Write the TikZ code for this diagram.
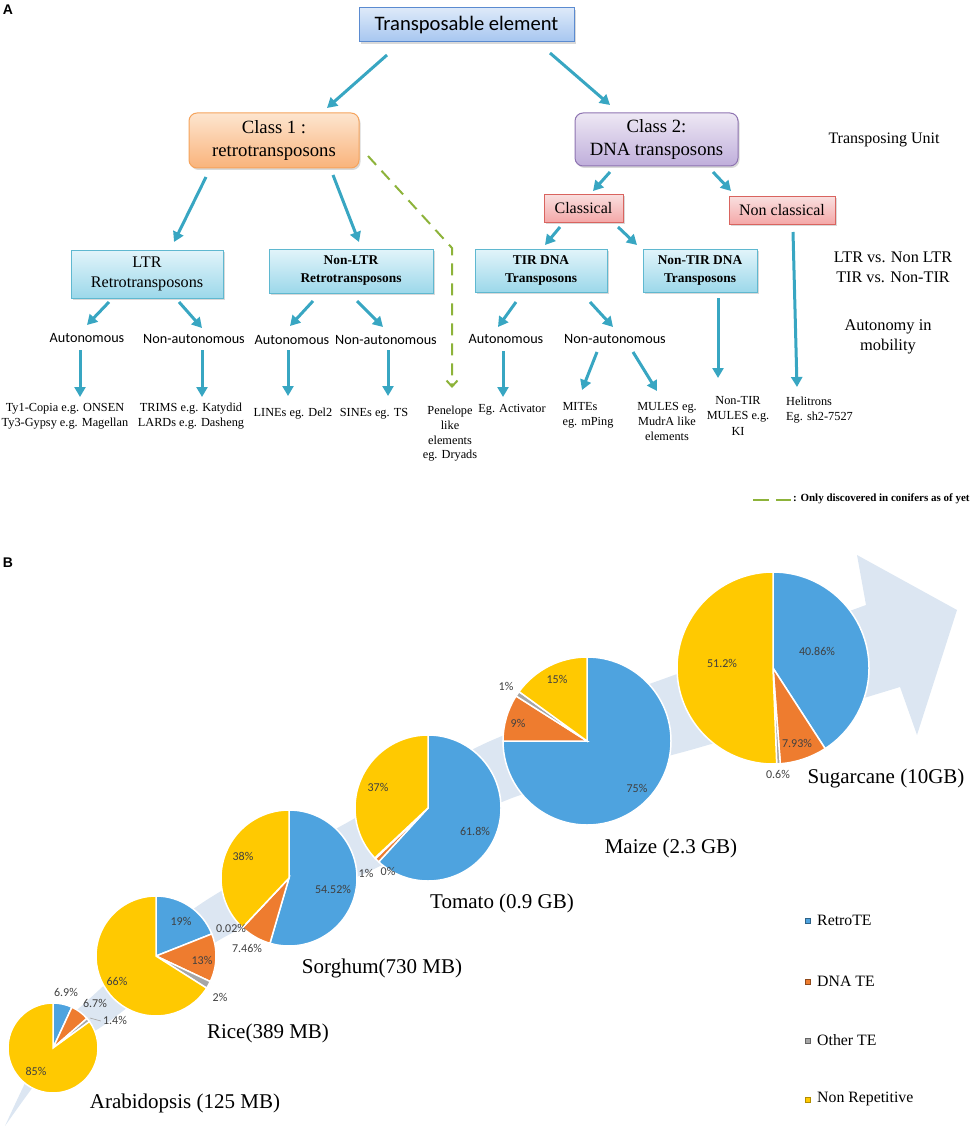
\documentclass[tikz,border=0pt]{standalone}
\usepackage{fontspec}
\setmainfont{Liberation Serif}
\newfontfamily\calibfont{Carlito}
\newfontfamily\arialfont{Liberation Sans}
\usetikzlibrary{arrows.meta,calc,shadows,positioning}
\definecolor{arrteal}{RGB}{56,166,194}
\definecolor{dashgreen}{RGB}{141,179,58}
\definecolor{teline}{RGB}{91,139,208}
\definecolor{tetop}{RGB}{221,233,249}
\definecolor{tebot}{RGB}{166,198,240}
\definecolor{orline}{RGB}{245,163,92}
\definecolor{ortop}{RGB}{253,229,207}
\definecolor{orbot}{RGB}{249,179,123}
\definecolor{puline}{RGB}{142,116,177}
\definecolor{putop}{RGB}{238,232,244}
\definecolor{pubot}{RGB}{191,174,219}
\definecolor{redline}{RGB}{217,100,95}
\definecolor{redtop}{RGB}{249,224,224}
\definecolor{redbot}{RGB}{244,168,168}
\definecolor{cyline}{RGB}{95,184,208}
\definecolor{cytop}{RGB}{226,244,250}
\definecolor{cybot}{RGB}{156,216,234}
\definecolor{cRetro}{RGB}{78,163,223}
\definecolor{cDNA}{RGB}{238,124,47}
\definecolor{cOther}{RGB}{166,166,166}
\definecolor{cNonrep}{RGB}{255,201,1}
\definecolor{bandblue}{RGB}{220,230,242}
\definecolor{labgray}{RGB}{64,64,64}

\begin{document}
\begin{tikzpicture}[x=1pt,y=-1pt,
    arr/.style={-{Triangle[length=10pt,width=11pt]},line width=3pt,draw=arrteal},
    gdash/.style={draw=dashgreen,line width=2pt,dash pattern=on 12pt off 8pt},
    box/.style={draw,line width=1pt,align=center,inner sep=1pt,drop shadow={opacity=0.3,shadow xshift=1.5pt,shadow yshift=-2pt}},
    tebox/.style={box,draw=teline,top color=tetop,bottom color=tebot,font=\calibfont\fontsize{20.6}{24}\selectfont},
    clsbox/.style={box,rounded corners=8pt,font=\fontsize{18.7}{23}\selectfont},
    redbox/.style={box,draw=redline,top color=redtop,bottom color=redbot,font=\fontsize{16}{19}\selectfont},
    cyanbox/.style={box,draw=cyline,top color=cytop,bottom color=cybot},
    autotxt/.style={inner sep=0pt,font=\calibfont\fontsize{14.2}{17}\selectfont},
    leaf/.style={inner sep=0pt,align=center,font=\fontsize{12.3}{15}\selectfont},
    side/.style={inner sep=0pt,align=center,font=\fontsize{16.2}{20}\selectfont},
    slice/.style={draw=white,line width=1.5pt},
    plab/.style={inner sep=0pt,text=labgray,font=\calibfont\fontsize{12}{14}\selectfont},
    species/.style={inner sep=0pt,font=\fontsize{21}{25}\selectfont},
    legsq/.style={inner sep=0pt,minimum size=5pt,line width=0.6pt},
    legtxt/.style={inner sep=0pt,anchor=west,font=\fontsize{15.8}{19}\selectfont}
]
    \useasboundingbox (0,0) rectangle (969,1134);
    \node[inner sep=0pt,font=\arialfont\bfseries\fontsize{14}{16}\selectfont] (lblA) at (8,10) {A};
    \node[inner sep=0pt,font=\arialfont\bfseries\fontsize{14}{16}\selectfont] (lblB) at (8,563) {B};

    \node[tebox,minimum width=215pt,minimum height=34pt] (te) at (466.5,25) {Transposable element};
    \node[clsbox,draw=orline,top color=ortop,bottom color=orbot,minimum width=170pt,minimum height=55pt] (cls1) at (274,140.5) {Class 1 :\\retrotransposons};
    \node[clsbox,draw=puline,top color=putop,bottom color=pubot,minimum width=163pt,minimum height=53pt] (cls2) at (656.5,139.5) {Class 2:\\DNA transposons};
    \node[redbox,minimum width=79pt,minimum height=28pt] (classical) at (583.5,208) {Classical};
    \node[redbox,minimum width=106pt,minimum height=28pt] (nonclass) at (782,210) {Non classical};
    \node[cyanbox,minimum width=152pt,minimum height=48pt,font=\fontsize{16.2}{20}\selectfont] (ltr) at (147,274) {LTR\\Retrotransposons};
    \node[cyanbox,minimum width=164pt,minimum height=44pt,font=\bfseries\fontsize{13.4}{18}\selectfont] (nonltr) at (351,271) {Non-LTR\\Retrotransposons};
    \node[cyanbox,minimum width=132pt,minimum height=43pt,font=\bfseries\fontsize{13.4}{18}\selectfont] (tir) at (541,270.5) {TIR DNA\\Transposons};
    \node[cyanbox,minimum width=114pt,minimum height=43pt,font=\bfseries\fontsize{13.4}{18}\selectfont] (nontir) at (700,270.5) {Non-TIR DNA\\Transposons};

    \node[autotxt] (ltrA) at (87,338) {Autonomous};
    \node[autotxt] (ltrN) at (194,339) {Non-autonomous};
    \node[autotxt] (nltrA) at (292,340) {Autonomous};
    \node[autotxt] (nltrN) at (386,340) {Non-autonomous};
    \node[autotxt] (tirA) at (506,339) {Autonomous};
    \node[autotxt] (tirN) at (615,339) {Non-autonomous};

    \node[leaf] (ltrAl) at (65,416.5) {Ty1-Copia e.g. ONSEN\\Ty3-Gypsy e.g. Magellan};
    \node[leaf] (ltrNl) at (191,416.5) {TRIMS e.g. Katydid\\LARDs e.g. Dasheng};
    \node[leaf] (nltrAl) at (293,414) {LINEs eg. Del2};
    \node[leaf] (nltrNl) at (374,414) {SINEs eg. TS};
    \node[leaf,font=\fontsize{12.3}{14.7}\selectfont] (pen) at (450,434) {Penelope\\like\\elements\\eg. Dryads};
    \node[leaf] (act) at (512,410) {Eg. Activator};
    \node[leaf,align=left] (mites) at (588,415.5) {MITEs\\eg. mPing};
    \node[leaf] (mules) at (667,421) {MULES eg.\\MudrA like\\elements};
    \node[leaf,font=\fontsize{12.3}{15.5}\selectfont] (ntm) at (738,415.5) {Non-TIR\\MULES e.g.\\KI};
    \node[leaf,align=left,anchor=west] (heli) at (786,410.5) {Helitrons\\Eg. sh2-7527};

    \node[side,font=\fontsize{16}{20}\selectfont] (tunit) at (884,140) {Transposing Unit};
    \node[side] (ltrvs) at (893,267) {LTR vs. Non LTR\\TIR vs. Non-TIR};
    \node[side,font=\fontsize{16.4}{20}\selectfont] (auton) at (888,337) {Autonomy in\\mobility};

    \draw[arr] ($(te)+(-79.5,30)$) -- ($(cls1)+(53,-32.5)$);
    \draw[arr] ($(te)+(83.5,28)$) -- ($(cls2)+(-46.5,-34.5)$);
    \draw[arr] ($(cls1)+(-68,36.5)$) -- ($(ltr)+(27,-32)$);
    \draw[arr] ($(cls1)+(59,34.5)$) -- ($(nonltr)+(8,-29)$);
    \draw[arr] ($(cls2)+(-46.5,32.5)$) -- ($(classical)+(9.5,-17)$);
    \draw[arr] ($(cls2)+(56.5,32.5)$) -- ($(nonclass)+(-51,-19)$);
    \draw[arr] ($(nonclass)+(11,22)$) -- ($(heli.west)+(11,-23.5)$);
    \draw[arr] ($(classical)+(-23.5,19)$) -- ($(tir)+(4,-25.5)$);
    \draw[arr] ($(classical)+(34.5,19)$) -- ($(nontir)+(-63,-25.5)$);
    \draw[arr] ($(ltr)+(-38,28)$) -- ($(ltrA)+(0,-13)$);
    \draw[arr] ($(ltr)+(32,28)$) -- ($(ltrN)+(8,-11)$);
    \draw[arr] ($(nonltr)+(-38,30)$) -- ($(nltrA)+(-2,-14)$);
    \draw[arr] ($(nonltr)+(6,30)$) -- ($(nltrN)+(-3,-13)$);
    \draw[arr] ($(tir)+(-25,31.5)$) -- ($(tirA)+(-8,-12)$);
    \draw[arr] ($(tir)+(49,31.5)$) -- ($(tirN)+(-2,-12)$);
    \draw[arr] ($(ltrA)+(-7,12)$) -- ($(ltrAl)+(15,-19.5)$);
    \draw[arr] ($(ltrN)+(8,11)$) -- ($(ltrNl)+(11,-19.5)$);
    \draw[arr] ($(nltrA)+(-4,10)$) -- ($(nltrAl)+(-5,-18)$);
    \draw[arr] ($(nltrN)+(2,10)$) -- ($(nltrNl)+(14,-18)$);
    \draw[arr] ($(tirA)+(-3,12)$) -- ($(act)+(-9,-13)$);
    \draw[arr] ($(tirN)+(-18,13)$) -- ($(mites)+(-6,-25.5)$);
    \draw[arr] ($(tirN)+(18,13)$) -- ($(mules)+(-10,-30)$);
    \draw[arr] ($(nontir)+(18,27.5)$) -- ($(ntm)+(-20,-37.5)$);
    \draw[gdash,-{Straight Barb[length=6pt,width=11pt]}] ($(cls1)+(94,15.5)$) -- ($(pen)+(2,-186)$) -- ($(pen)+(2,-46)$);

    \node[inner sep=0pt,anchor=west,font=\bfseries\fontsize{11}{13}\selectfont] (note) at (793,499) {: Only discovered in conifers as of yet};
    \draw[gdash,dash pattern=on 16pt off 7pt] ($(note.west)+(-40,1)$) -- ($(note.west)+(-2,1)$);

    \fill[bandblue] plot[smooth,tension=0.5] coordinates {(5,1126) (46,1043) (87,1001) (199,905) (350,821) (488,742) (666,678) (866,605)} -- (857,555) -- (957,610) -- (917,735) -- plot[smooth,tension=0.5] coordinates {(900,687) (694,749) (512,798) (374,869) (221,939) (107,1023) (60,1053) (5,1126)} -- cycle;

    \foreach \cx/\cy/\r/\pa/\pb/\pc in {53/1048/45/6.9/6.7/1.4, 156/956/60/19/13/2, 289/878/68/54.52/7.46/0.02, 428/808/73/61.8/1/0.2, 587/741/84/75/9/1, 773/668/96/40.86/7.93/0.6}{
        \pgfmathsetmacro\qa{-90+3.6*\pa}
        \pgfmathsetmacro\qb{\qa+3.6*\pb}
        \pgfmathsetmacro\qc{\qb+3.6*\pc}
        \path[slice,fill=cRetro] (\cx,\cy) -- ++(-90:\r) arc[start angle=-90,end angle=\qa,radius=\r] -- cycle;
        \path[slice,fill=cDNA] (\cx,\cy) -- ++(\qa:\r) arc[start angle=\qa,end angle=\qb,radius=\r] -- cycle;
        \path[slice,fill=cOther] (\cx,\cy) -- ++(\qb:\r) arc[start angle=\qb,end angle=\qc,radius=\r] -- cycle;
        \path[slice,fill=cNonrep] (\cx,\cy) -- ++(\qc:\r) arc[start angle=\qc,end angle=270,radius=\r] -- cycle;
    }

    \foreach \n/\px/\py/\t in {ara1/66/992/6.9\%, ara2/95/1003/6.7\%, ara3/115/1020/1.4\%, ara4/36/1071/85\%,
        ric1/181/921/19\%, ric2/202/960/13\%, ric3/220/997/2\%, ric4/117/981/66\%,
        sor1/333/889/54.52\%, sor2/247/948/7.46\%, sor3/231/928/0.02\%, sor4/243/856/38\%,
        tom1/475/831/61.8\%, tom2/366/873/1\%, tom3/388/871/0\%, tom4/378/787/37\%,
        mai1/637/788/75\%, mai2/518/723/9\%, mai3/506/686/1\%, mai4/557/679/15\%,
        sug1/817/651/40.86\%, sug2/797/743/7.93\%, sug3/778/774/0.6\%, sug4/722/663/51.2\%}
        \node[plab] (\n) at (\px,\py) {\t};
    \draw[cOther,line width=0.6pt] ($(ara3.west)+(-13,-2)$) -- ($(ara3.west)+(-2,1)$);

    \foreach \n/\px/\py/\t in {araname/185/1103/Arabidopsis (125 MB), ricename/268/1033/Rice(389 MB),
        sorname/382/968/Sorghum(730 MB), tomname/502/903/Tomato (0.9 GB),
        mainame/671/848/Maize (2.3 GB), sugname/886/778/Sugarcane (10GB)}
        \node[species] (\n) at (\px,\py) {\t};

    \node[legsq,fill=cRetro,draw=cRetro!60!black] (sq1) at (808,921) {};
    \node[legsq,fill=cDNA,draw=cDNA!60!black] (sq2) at (808,982) {};
    \node[legsq,fill=cOther,draw=cOther!60!black] (sq3) at (808,1041) {};
    \node[legsq,fill=cNonrep,draw=cNonrep!70!black] (sq4) at (808,1100) {};
    \node[legtxt] (leg1) at (817,920) {RetroTE};
    \node[legtxt] (leg2) at (817,981) {DNA TE};
    \node[legtxt] (leg3) at (817,1040) {Other TE};
    \node[legtxt] (leg4) at (817,1099) {Non Repetitive};
\end{tikzpicture}
\end{document}
